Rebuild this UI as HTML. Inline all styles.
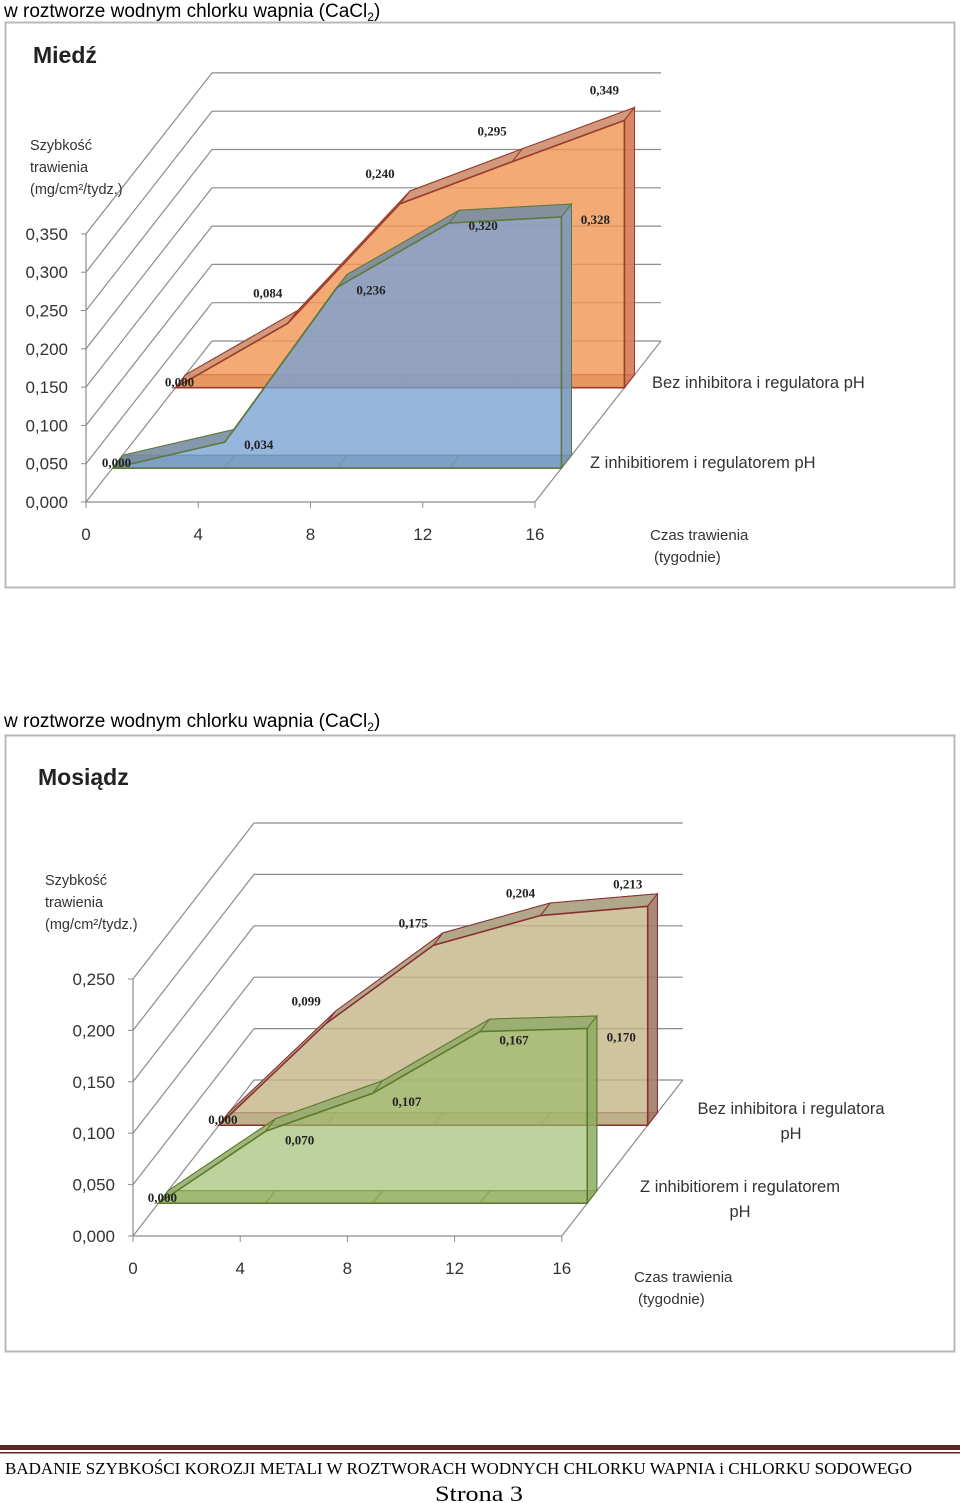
<!DOCTYPE html>
<html><head><meta charset="utf-8"><style>
html,body{margin:0;padding:0;background:#fff}
svg{display:block}
</style></head><body>
<svg id="page" width="960" height="1503" viewBox="0 0 960 1503" xmlns="http://www.w3.org/2000/svg" font-family="'Liberation Sans', sans-serif">
<text x="4" y="17" font-size="19" fill="#000">w roztworze wodnym chlorku wapnia  (CaCl<tspan font-size="12" dy="4">2</tspan><tspan dy="-4">)</tspan></text>
<rect x="5.5" y="22.5" width="949" height="565" fill="#fff" stroke="#b8b8b8" stroke-width="2"/>
<g id="c1"></g>
<text x="4" y="727" font-size="19" fill="#000">w roztworze wodnym chlorku wapnia  (CaCl<tspan font-size="12" dy="4">2</tspan><tspan dy="-4">)</tspan></text>
<rect x="5.5" y="735.5" width="949" height="616" fill="#fff" stroke="#b8b8b8" stroke-width="2"/>
<g id="c2"></g>
<rect x="0" y="1445" width="960" height="5" fill="#622423"/>
<rect x="0" y="1452" width="960" height="1.5" fill="#622423"/>
<text x="5" y="1474" font-family="'Liberation Serif', serif" font-size="17" textLength="907" lengthAdjust="spacingAndGlyphs">BADANIE SZYBKOŚCI KOROZJI METALI W  ROZTWORACH WODNYCH CHLORKU WAPNIA  i CHLORKU SODOWEGO</text>
<text x="479" y="1501" text-anchor="middle" font-family="'Liberation Serif', serif" font-size="22" textLength="88" lengthAdjust="spacingAndGlyphs">Strona 3</text>
</svg>
<script>
const weeks = [0, 4, 8, 12, 16];
const miedzBez = [0, 0.084, 0.240, 0.295, 0.349];
const miedzZ = [0, 0.034, 0.236, 0.320, 0.328];
const mosiadzBez = [0, 0.099, 0.175, 0.204, 0.213];
const mosiadzZ = [0, 0.070, 0.107, 0.167, 0.170];
const miedzTicks = [0, 0.05, 0.10, 0.15, 0.20, 0.25, 0.30, 0.35];
const mosiadzTicks = [0, 0.05, 0.10, 0.15, 0.20, 0.25];
const miedzTickLabels = ["0,000","0,050","0,100","0,150","0,200","0,250","0,300","0,350"];
const mosiadzTickLabels = ["0,000","0,050","0,100","0,150","0,200","0,250"];
const weekLabels = ["0","4","8","12","16"];

const NS = "http://www.w3.org/2000/svg";
function mk(parent, tag, attrs, name) {
  const el = document.createElementNS(NS, tag);
  for (const k in attrs) el.setAttribute(k, attrs[k]);
  
  
  parent.appendChild(el);
  return el;
}
function fmt(v){ return v.toFixed(3).replace('.', ','); }

function drawChart(g, o) {
  const X = (w, d) => o.x0 + w * o.sx + d * o.DX;
  const Y = (v, d) => o.y0 - v * o.sy - d * o.DY;
  const P = (w, v, d) => X(w, d) + ',' + Y(v, d);
  const grid = '#8c8c8c';
  const tmax = o.ticks[o.ticks.length - 1];
  const wmax = weeks[weeks.length - 1];
  // back wall gridlines and left wall diagonals
  o.ticks.forEach((t, i) => {
    mk(g, 'line', {x1: X(0,1), y1: Y(t,1), x2: X(wmax,1), y2: Y(t,1), stroke: grid, 'stroke-width': 1.2}, 'back-gridline');
    mk(g, 'line', {x1: X(0,0), y1: Y(t,0), x2: X(0,1), y2: Y(t,1), stroke: grid, 'stroke-width': 1.2}, 'side-gridline');
    mk(g, 'line', {x1: X(0,0) - 5, y1: Y(t,0), x2: X(0,0), y2: Y(t,0), stroke: grid}, 'y-tick');
    const tx = mk(g, 'text', {x: X(0,0) - 18, y: Y(t,0) + 6, 'text-anchor': 'end', 'font-size': 17, fill: '#333'}, 'y-tick-label');
    tx.textContent = o.tickLabels[i];
  });
  mk(g, 'line', {x1: X(0,0), y1: Y(0,0), x2: X(0,0), y2: Y(tmax,0), stroke: grid, 'stroke-width': 1.2}, 'y-axis');
  mk(g, 'line', {x1: X(0,0), y1: Y(0,0), x2: X(wmax,0), y2: Y(0,0), stroke: grid, 'stroke-width': 1.2}, 'x-axis');
  mk(g, 'line', {x1: X(wmax,0), y1: Y(0,0), x2: X(wmax,1), y2: Y(0,1), stroke: grid, 'stroke-width': 1.2}, 'floor-edge');
  weeks.forEach((w, i) => {
    mk(g, 'line', {x1: X(w,0), y1: Y(0,0), x2: X(w,0), y2: Y(0,0) + 6, stroke: grid}, 'x-tick');
    const tx = mk(g, 'text', {x: X(w,0), y: Y(0,0) + 38, 'text-anchor': 'middle', 'font-size': 17, fill: '#333'}, 'x-tick-label');
    tx.textContent = weekLabels[i];
  });
  o.series.forEach(s => {
    const d1 = s.d, d2 = s.d + 0.08, vals = s.vals;
    const sg = mk(g, 'g', {}, s.name);
    const poly = d => weeks.map((w, i) => P(w, vals[i], d)).join(' ') + ' ' + P(wmax, 0, d) + ' ' + P(0, 0, d);
    mk(sg, 'polygon', {points: poly(d2), fill: s.back, stroke: s.stroke, 'stroke-width': 1}, 'series-back-face');
    // floor strip
    mk(sg, 'polygon', {points: [P(0,0,d1),P(wmax,0,d1),P(wmax,0,d2),P(0,0,d2)].join(' '), fill: s.top, stroke: s.stroke, 'stroke-width': 1}, 'series-floor');
    weeks.forEach((w, i) => {
      if (i > 0 && i < weeks.length - 1)
        mk(sg, 'line', {x1: X(w,d1), y1: Y(0,d1), x2: X(w,d2), y2: Y(0,d2), stroke: s.stroke, 'stroke-width': 1}, 'floor-divider');
    });
    for (let i = 0; i < weeks.length - 1; i++) {
      mk(sg, 'polygon', {points: [P(weeks[i],vals[i],d1),P(weeks[i+1],vals[i+1],d1),P(weeks[i+1],vals[i+1],d2),P(weeks[i],vals[i],d2)].join(' '), fill: s.top, stroke: s.stroke, 'stroke-width': 1}, 'series-top-segment');
    }
    const n = vals.length - 1;
    mk(sg, 'polygon', {points: [P(wmax,vals[n],d1),P(wmax,vals[n],d2),P(wmax,0,d2),P(wmax,0,d1)].join(' '), fill: s.side, stroke: s.stroke, 'stroke-width': 1}, 'series-end-face');
    mk(sg, 'polygon', {points: poly(d1), fill: s.fill, stroke: s.stroke, 'stroke-width': 1.6}, 'series-front-face');
    weeks.forEach((w, i) => {
      const zero = vals[i] === 0;
      const lx = X(w, d1) + (zero ? 4 : s.lo[0]);
      const ly = Y(vals[i], d1) + (zero ? -1 : s.lo[1] + 4);
      const t = mk(sg, 'text', {x: lx, y: ly, 'text-anchor': 'middle', 'font-size': 13, fill: '#222', 'font-family': "'Liberation Serif', serif", 'font-weight': 'bold'}, 'data-label');
      t.textContent = fmt(vals[i]);
    });
  });
  // titles
  const ti = mk(g, 'text', {x: o.title[0], y: o.title[1], 'font-size': 23, 'font-weight': 'bold', fill: '#222'}, 'chart-title');
  ti.textContent = o.titleText;
  ['Szybkość', 'trawienia', '(mg/cm²/tydz.)'].forEach((l, i) => {
    const t = mk(g, 'text', {x: o.ytitle[0], y: o.ytitle[1] + i * 22, 'font-size': 14.5, fill: '#333'}, 'y-axis-title');
    t.textContent = l;
  });
  o.legend.forEach(L => {
    const t = mk(g, 'text', {x: L[0], y: L[1], 'font-size': 16.5, fill: '#333', 'text-anchor': L[3] || 'start'}, 'series-label');
    t.textContent = L[2];
  });
  ['Czas trawienia', '(tygodnie)'].forEach((l, i) => {
    const t = mk(g, 'text', {x: o.xtitle[0] + i * 4, y: o.xtitle[1] + i * 22, 'font-size': 15, fill: '#333'}, 'x-axis-title');
    t.textContent = l;
  });
}

drawChart(document.getElementById('c1'), {
  x0: 86, y0: 502, sx: 28.06, sy: 766, DX: 126, DY: 161,
  ticks: miedzTicks, tickLabels: miedzTickLabels,
  titleText: 'Miedź', title: [33, 63], ytitle: [30, 150], xtitle: [650, 540],
  legend: [[652, 388, 'Bez inhibitora i regulatora pH'], [590, 468, 'Z inhibitiorem i regulatorem pH']],
  series: [
    {name: 'series-bez-inhibitora', vals: miedzBez, d: 0.71, fill: 'rgba(240,150,85,0.72)', back: 'rgba(240,160,100,0.35)', top: 'rgba(205,145,115,0.9)', side: 'rgba(210,120,80,0.85)', stroke: '#9b3a2a', lo: [-20, -30]},
    {name: 'series-z-inhibitorem', vals: miedzZ, d: 0.21, fill: 'rgba(120,160,212,0.68)', back: 'rgba(120,160,212,0.3)', top: 'rgba(120,140,160,0.85)', side: 'rgba(120,150,190,0.85)', stroke: '#5d7a3a', lo: [34, 3]}
  ]
});
drawChart(document.getElementById('c2'), {
  x0: 133, y0: 1236, sx: 26.8, sy: 1028, DX: 121, DY: 156,
  ticks: mosiadzTicks, tickLabels: mosiadzTickLabels,
  titleText: 'Mosiądz', title: [38, 785], ytitle: [45, 885], xtitle: [634, 1282],
  legend: [[791, 1114, 'Bez inhibitora i regulatora', 'middle'], [791, 1139, 'pH', 'middle'], [740, 1192, 'Z inhibitiorem i regulatorem', 'middle'], [740, 1217, 'pH', 'middle']],
  series: [
    {name: 'series-bez-inhibitora', vals: mosiadzBez, d: 0.71, fill: 'rgba(195,180,135,0.7)', back: 'rgba(195,180,135,0.3)', top: 'rgba(170,160,130,0.9)', side: 'rgba(160,120,100,0.85)', stroke: '#8b3030', lo: [-20, -22]},
    {name: 'series-z-inhibitorem', vals: mosiadzZ, d: 0.21, fill: 'rgba(155,188,105,0.55)', back: 'rgba(155,188,105,0.25)', top: 'rgba(150,170,110,0.85)', side: 'rgba(140,170,100,0.8)', stroke: '#5b7a2a', lo: [34, 9]}
  ]
});
</script>
</body></html>
